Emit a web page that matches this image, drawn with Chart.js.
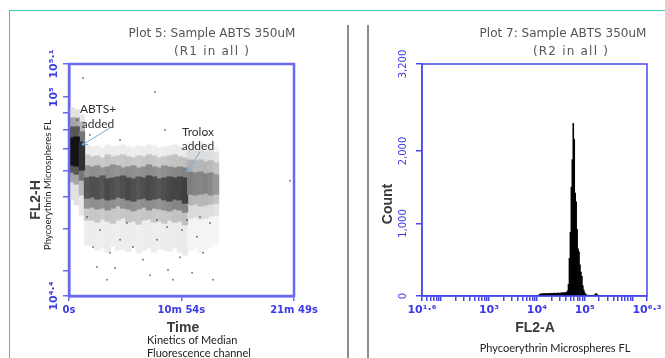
<!DOCTYPE html>
<html>
<head>
<meta charset="utf-8">
<script src="https://cdn.jsdelivr.net/npm/chart.js@4.4.1/dist/chart.umd.min.js"></script>
<style>
  html, body { margin:0; padding:0; background:#ffffff; }
  #stage { position:relative; width:665px; height:358px; overflow:hidden; background:#fff; }
  #stage canvas { position:absolute; top:0; }
  .deco { position:absolute; }
  .txt { position:absolute; white-space:nowrap; transform:translate(-50%,-50%); line-height:1; }
  .txt.rot { transform:translate(-50%,-50%) rotate(-90deg); }
  .txt.left { transform:translate(0,-50%); }
  .title { font-family:"DejaVu Sans",sans-serif; font-size:12px; color:#555; }
  .axt { font-family:"Liberation Sans",Arial,sans-serif; font-weight:bold; font-size:14px; color:#3a3a3a; }
  .note { font-family:Lato,"Open Sans",sans-serif; font-size:11px; color:#222; }
</style>
</head>
<body>
<div id="stage">
  <canvas id="kin" width="340" height="358" style="left:0"></canvas>
  <canvas id="hist" width="325" height="358" style="left:340px"></canvas>
  <div class="deco" style="left:9px;top:10px;width:656px;height:1px;background:#3cc9b6"></div>
  <div class="deco" style="left:9px;top:10px;width:1px;height:348px;background:#3cc9b6"></div>
  <div class="deco" style="left:347px;top:25px;width:2px;height:333px;background:#8c8c8c"></div>
  <div class="deco" style="left:367px;top:25px;width:2px;height:333px;background:#8c8c8c"></div>

  <div class="txt title" style="left:212px;top:33px">Plot 5: Sample ABTS 350uM</div>
  <div class="txt title" style="left:212px;top:51px;letter-spacing:1.2px">(R1 in all )</div>
  <div class="txt title" style="left:563px;top:33px">Plot 7: Sample ABTS 350uM</div>
  <div class="txt title" style="left:571px;top:51px;letter-spacing:1.2px">(R2 in all )</div>

  <div class="txt axt rot" style="left:35px;top:200px">FL2-H</div>
  <div class="txt note rot" style="left:48px;top:185px;font-size:9.5px">Phycoerythrin Microspheres FL</div>
  <div class="txt axt" style="left:183px;top:327px">Time</div>
  <div class="txt note left" style="left:147px;top:339px">Kinetics of Median</div>
  <div class="txt note left" style="left:147px;top:352px">Fluorescence channel</div>

  <div class="txt axt rot" style="left:387px;top:204px">Count</div>
  <div class="txt axt" style="left:535px;top:327px">FL2-A</div>
  <div class="txt note" style="left:555px;top:347px">Phycoerythrin Microspheres FL</div>
</div>
<script>
// ================= LEFT PANEL: kinetics (FL2-H vs Time) =================
// time bin centres (s) of the density bands
const kinTime = [15,45,75,105,135,165,195,225,255,285,315,345,375,405,435,465,495,525,555,585,615,645,675,705,735,765,795,825,855];
// dense core of the event cloud (FL2-H)
const coreLo = [62400,62000,60300,49600,50000,49300,49600,49000,49300,50000,49600,49000,48600,49300,49600,49000,49300,49600,49000,48600,49300,49000,47900,51000,50700,51000,51400,50700,51000];
const coreHi = [75300,75800,73200,57000,57400,57000,57800,56600,57000,57400,57800,57000,56600,57400,57000,57800,57400,56600,57000,57400,57000,57400,57000,59400,59000,59400,58600,59000,58200];
// mid-density envelope
const midLo = [59400,58600,56200,46300,46600,46000,46300,45700,46300,47000,46300,46000,45400,46000,46600,45700,46300,46000,45700,45400,46000,45700,45000,47300,47600,47000,47300,47600,47900];
const midHi = [80700,81300,78500,62000,61500,62000,61100,61500,62400,62000,61100,61500,62000,61100,61500,62400,61500,61100,62000,61500,61100,61500,61100,64600,64200,64600,63700,64200,63300];
// halo envelope
const haloLo = [55500,54700,50700,42600,42600,42000,42900,42300,41700,42600,43200,42000,42300,41400,42600,42900,42000,42300,41700,42600,42000,42300,41200,43200,43500,42900,43200,43800,44100];
const haloHi = [86500,86500,84100,66900,66000,66400,65500,66900,66000,66400,66900,66000,65500,66400,66000,66900,66400,65500,66000,66400,66900,66000,65500,69300,68800,69300,68300,68800,67900];
// faint outer envelope
const faintLo = [49000,47300,44100,35800,35800,34600,35100,34100,35600,34600,34800,34300,35300,33900,34600,35100,34100,34800,34600,34300,35100,34100,33400,34600,35100,34100,34600,35300,35800];
const faintHi = [92700,91500,88300,71700,70700,71200,70200,71700,70700,71200,71700,70700,70200,71200,70700,71700,71200,70200,70700,71200,71700,70700,70200,73200,72700,73200,72200,72700,71200];
// relative event density of each time bin
const bandDensity = [1.7,1.7,1.3,0.95,1.0,1.0,0.95,1.05,1.0,0.95,1.0,1.05,1.0,0.95,1.0,1.05,1.0,0.95,1.0,1.05,1.1,1.1,1.15,0.65,0.62,0.6,0.62,0.58,0.5];
// isolated events outside the bands
const sparseTime = [105,180,163,268,221,372,431,512,576,646,657,745,780,838,820,297,337,512,570,140,239,471,605,716,762,687,81,500,17,47,122,297,559,791,1286];
const sparseFL2  = [43500,39700,30700,30500,28100,35300,32300,37100,30100,32900,39700,37900,33900,28100,41700,37100,41700,42600,40600,35300,33900,29000,28100,29500,43500,42600,114300,103600,81300,85300,76900,74300,79600,76900,55900];

const timeTickValues = [0, 654, 1309];
const timeTickLabels = ['0s', '10m 54s', '21m 49s'];
const fl2Min = 25118.86, fl2Max = 125892.54;
const fl2MinorTicks = [30000, 40000, 50000, 60000, 70000, 80000, 90000];
const fl2LabelValues = [25118.86, 100000, 125892.54];
const fl2Labels = ['10⁴·⁴', '10⁵', '10⁵·¹'];

// annotations
const annText = ['ABTS+', 'added', 'Trolox', 'added'];
const annTime = [169, 169, 750, 750];
const annFL2  = [92100, 83000, 78500, 71200];
const arrowT0 = [238, 762], arrowV0 = [80700, 68300];
const arrowT1 = [76, 686],  arrowV1 = [71700, 59400];

// ================= RIGHT PANEL: histogram (Count vs FL2-A) =================
// bin centres in log10(FL2-A)
const histBins = [4.00,4.02,4.04,4.06,4.08,4.10,4.12,4.14,4.16,4.18,4.20,4.22,4.24,4.26,4.28,4.30,4.32,4.34,4.36,4.38,4.40,4.42,4.44,4.46,4.48,4.50,4.52,4.54,4.56,4.58,4.60,4.62,
                  4.64,4.66,4.68,4.70,4.72,4.74,4.76,4.78,4.80,4.82,4.84,4.86,4.88,4.90,4.92,4.94,4.96,4.98,5.00,5.02,5.04,5.06,5.08,5.10,5.12,5.14,5.16,5.18,5.20,5.22,5.24,5.26,5.28,5.30];
const histCounts = [8,10,12,25,28,30,32,30,34,30,33,35,32,36,34,38,35,37,40,36,38,40,42,38,41,40,43,45,42,46,48,52,
                    70,160,520,880,1500,1880,2380,2160,1420,1300,920,650,610,430,330,270,140,80,45,25,12,8,6,5,4,4,5,6,10,25,35,20,6,3];
const countTicks = [0, 1000, 2000, 3200];
const countTickLabels = ['0', '1,000', '2,000', '3,200'];
const fl2aLabelValues = [1.6, 3, 4, 5, 6.3];
const fl2aLabels = ['10¹·⁶', '10³', '10⁴', '10⁵', '10⁶·³'];

// ================= plugins =================
const boxPlugin = {
  id: 'box',
  afterDatasetsDraw(chart, args, opts) {
    const {ctx, chartArea: a} = chart;
    ctx.save();
    ctx.strokeStyle = opts.color; ctx.lineWidth = opts.width;
    ctx.strokeRect(a.left, a.top, a.right - a.left, a.bottom - a.top);
    ctx.restore();
  }
};
const annotPlugin = {
  id: 'annot',
  afterDatasetsDraw(chart) {
    const {ctx} = chart, xs = chart.scales.x, ys = chart.scales.y;
    ctx.save();
    ctx.font = '12px Lato, "Open Sans", sans-serif';
    ctx.fillStyle = '#333'; ctx.textAlign = 'center'; ctx.textBaseline = 'middle';
    annText.forEach((s, i) => ctx.fillText(s, xs.getPixelForValue(annTime[i]), ys.getPixelForValue(annFL2[i])));
    ctx.strokeStyle = '#79a7d8'; ctx.lineWidth = 1;
    arrowT0.forEach((t, i) => {
      const x0 = xs.getPixelForValue(t), y0 = ys.getPixelForValue(arrowV0[i]);
      const x1 = xs.getPixelForValue(arrowT1[i]), y1 = ys.getPixelForValue(arrowV1[i]);
      const ang = Math.atan2(y1 - y0, x1 - x0);
      ctx.beginPath(); ctx.moveTo(x0, y0); ctx.lineTo(x1, y1);
      ctx.moveTo(x1 - 6 * Math.cos(ang - 0.45), y1 - 6 * Math.sin(ang - 0.45)); ctx.lineTo(x1, y1);
      ctx.lineTo(x1 - 6 * Math.cos(ang + 0.45), y1 - 6 * Math.sin(ang + 0.45));
      ctx.stroke();
    });
    ctx.restore();
  }
};

const labelFor = (vals, labels, v, rel) => {
  const i = vals.findIndex(u => Math.abs(u - v) <= (rel ? Math.abs(u) * 1e-4 : 1e-6));
  return i >= 0 ? labels[i] : '';
};

// ================= left chart =================
const AXL = '#6a6af0', TXL = '#3b3be4';
const layers = [
  {lo: faintLo, hi: faintHi},
  {lo: haloLo,  hi: haloHi},
  {lo: midLo,   hi: midHi},
  {lo: coreLo,  hi: coreHi}
];
const layerAlpha = [0.07, 0.16, 0.28, 0.45];
// opaque grey for layer k of bin i (equivalent to stacking translucent layers)
const layerGrey = (k, i) => {
  let keep = 1;
  for (let j = 0; j <= k; j++) keep *= 1 - Math.min(0.97, layerAlpha[j] * bandDensity[i]);
  const g = Math.round(255 * keep);
  return `rgb(${g},${g},${g})`;
};
const kinDatasets = layers.map((L, k) => ({
  type: 'bar',
  order: layers.length - k,           // outer envelopes behind, core on top
  data: kinTime.map((t, i) => ({x: t, y: [L.lo[i], L.hi[i]]})),
  backgroundColor: c => layerGrey(k, c.dataIndex),
  grouped: false, barPercentage: 1, categoryPercentage: 1, inflateAmount: 0.6, borderWidth: 0
}));
kinDatasets.push({
  type: 'scatter', order: 0,
  data: sparseTime.map((t, i) => ({x: t, y: sparseFL2[i]})),
  pointRadius: 1, pointBackgroundColor: 'rgba(0,0,0,0.5)', pointBorderWidth: 0
});

new Chart(document.getElementById('kin'), {
  type: 'bar',
  data: {datasets: kinDatasets},
  options: {
    responsive: false, animation: false, devicePixelRatio: 1,
    layout: {padding: {left: 39, top: 64, right: 46, bottom: 32}},
    plugins: {legend: {display: false}, tooltip: {enabled: false}, box: {color: AXL, width: 2.5}},
    scales: {
      x: {
        type: 'linear', min: 0, max: 1309, offset: false,
        afterBuildTicks: s => { s.ticks = timeTickValues.map(v => ({value: v})); },
        afterFit: s => { s.height = 30; },
        ticks: {autoSkip: false, maxRotation: 0, minRotation: 0, padding: 3, color: TXL,
                font: {family: '"DejaVu Sans", sans-serif', size: 10, weight: 'bold'},
                callback: v => labelFor(timeTickValues, timeTickLabels, v, false)},
        grid: {drawOnChartArea: false, offset: false, tickLength: 5, color: AXL, lineWidth: 1.5},
        border: {color: AXL, width: 2.5}
      },
      y: {
        type: 'logarithmic', min: fl2Min, max: fl2Max,
        afterBuildTicks: s => { s.ticks = [fl2Min, ...fl2MinorTicks, 100000, fl2Max].map(v => ({value: v})); },
        afterFit: s => { s.width = 30; },
        ticks: {autoSkip: false, minRotation: 90, maxRotation: 90, crossAlign: 'center', padding: -6, color: TXL,
                font: {family: '"DejaVu Sans", sans-serif', size: 11, weight: 'bold'},
                callback: v => labelFor(fl2LabelValues, fl2Labels, v, true)},
        grid: {drawOnChartArea: false, tickLength: 6, color: AXL, lineWidth: 1.5},
        border: {color: AXL, width: 2.5}
      }
    }
  },
  plugins: [boxPlugin, annotPlugin]
});

// ================= right chart =================
const AXR = '#4848ee', TXR = '#3a3ae6';
new Chart(document.getElementById('hist'), {
  type: 'bar',
  data: {datasets: [{
    data: histBins.map((b, i) => ({x: b, y: histCounts[i]})),
    backgroundColor: '#000', borderWidth: 0, barPercentage: 1, categoryPercentage: 1
  }]},
  options: {
    responsive: false, animation: false, devicePixelRatio: 1,
    layout: {padding: {left: 52, top: 64, right: 18, bottom: 32}},
    plugins: {legend: {display: false}, tooltip: {enabled: false}, box: {color: AXR, width: 1.5}},
    scales: {
      x: {
        type: 'linear', min: 1.6, max: 6.3, offset: false,
        afterBuildTicks: s => {
          const vals = [...fl2aLabelValues];
          for (let d = 1; d <= 6; d++) for (let k = 1; k <= 9; k++) {
            const v = Math.log10(k * Math.pow(10, d));
            if (v > 1.61 && v < 6.29 && !vals.some(u => Math.abs(u - v) < 1e-9)) vals.push(v);
          }
          vals.sort((a, b) => a - b);
          s.ticks = vals.map(v => ({value: v}));
        },
        afterFit: s => { s.height = 30; },
        ticks: {autoSkip: false, maxRotation: 0, minRotation: 0, padding: 3, color: TXR,
                font: {family: '"DejaVu Sans", sans-serif', size: 11, weight: 'bold'},
                callback: v => labelFor(fl2aLabelValues, fl2aLabels, v, false)},
        grid: {drawOnChartArea: false, offset: false, tickLength: 5, color: AXR, lineWidth: 1.5},
        border: {color: AXR, width: 1.5}
      },
      y: {
        type: 'linear', min: 0, max: 3200,
        afterBuildTicks: s => { s.ticks = countTicks.map(v => ({value: v})); },
        afterFit: s => { s.width = 30; },
        ticks: {autoSkip: false, minRotation: 90, maxRotation: 90, crossAlign: 'center', padding: -2, color: TXR,
                font: {family: '"DejaVu Sans", sans-serif', size: 10},
                callback: v => labelFor(countTicks, countTickLabels, v, false)},
        grid: {drawOnChartArea: false, tickLength: 6, color: AXR, lineWidth: 1.5},
        border: {color: AXR, width: 1.5}
      }
    }
  },
  plugins: [boxPlugin]
});
</script>
</body>
</html>
